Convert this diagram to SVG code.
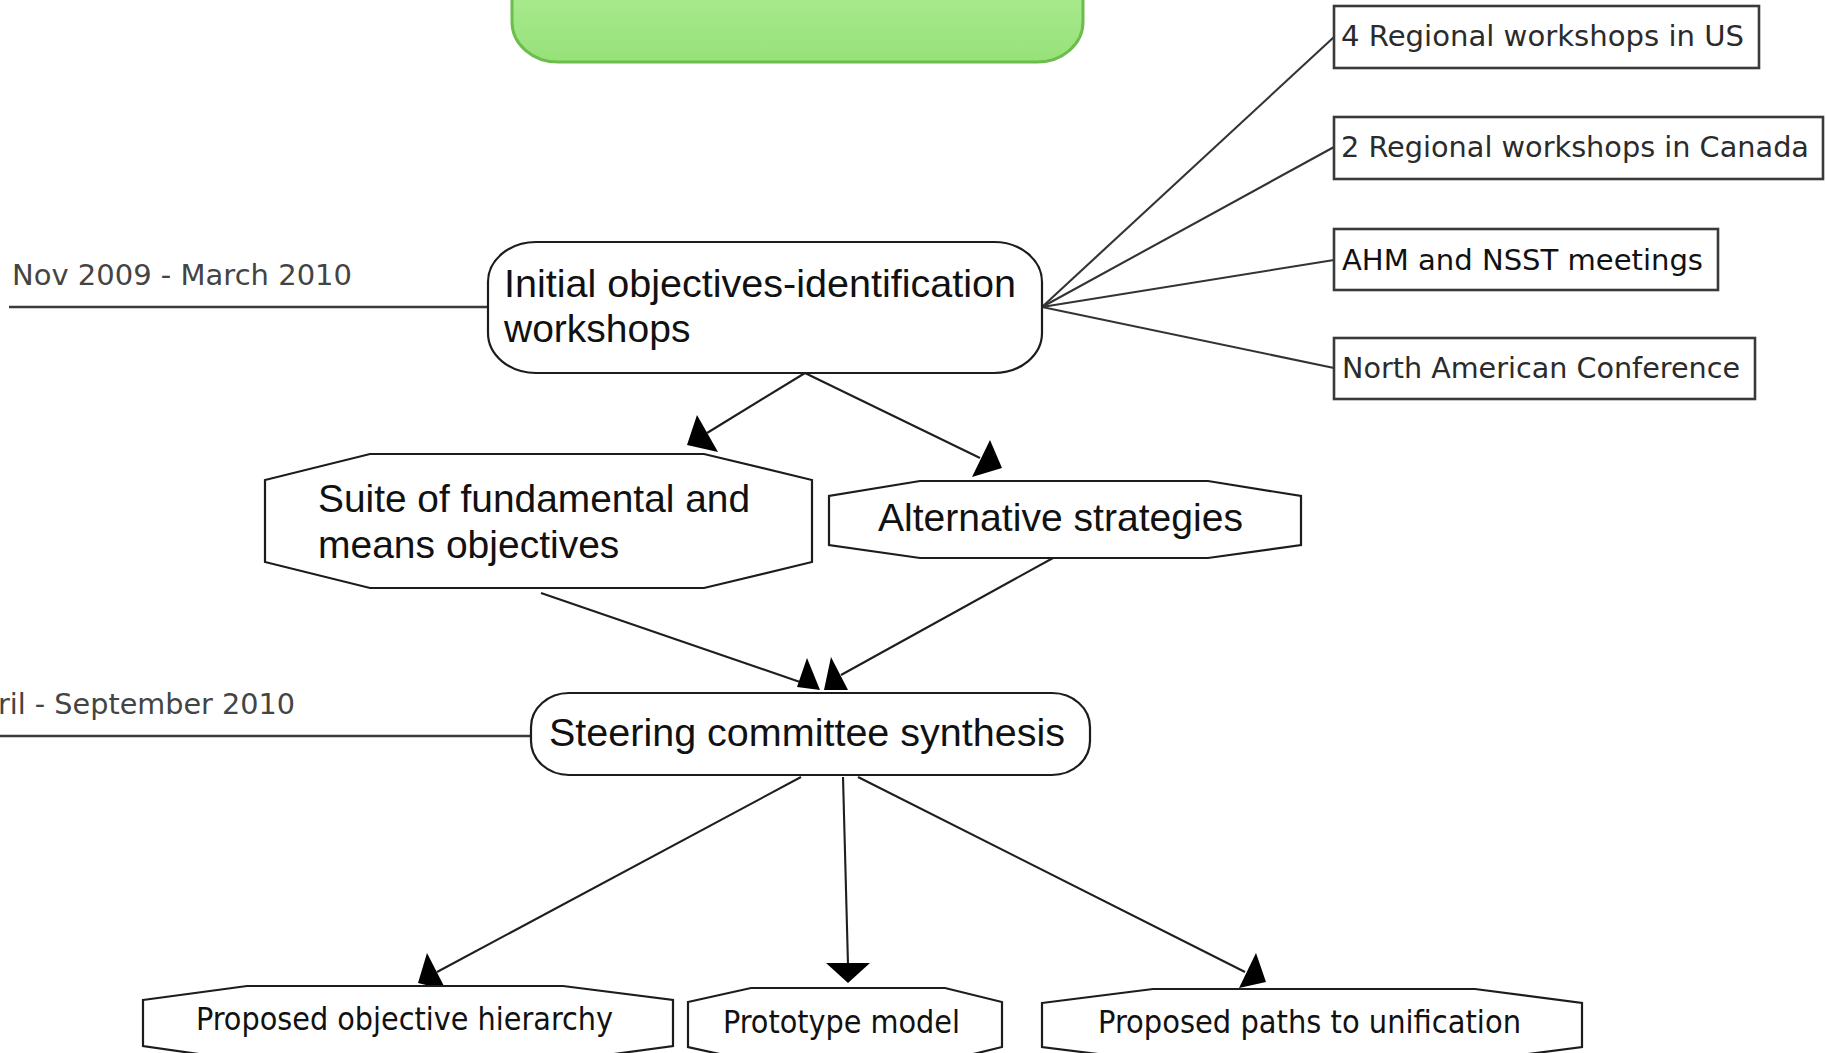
<svg xmlns="http://www.w3.org/2000/svg" width="1826" height="1053" viewBox="0 0 1826 1053">
  <defs>
    <linearGradient id="greenFill" x1="0" y1="0" x2="0" y2="1">
      <stop offset="0" stop-color="#b6f29e"/>
      <stop offset="1" stop-color="#96e179"/>
    </linearGradient>
    <style>
      .node { fill: #fff; stroke: #1c1c1c; stroke-width: 2.2; }
      .box { fill: #fff; stroke: #3a3a3a; stroke-width: 2.6; }
      .edge { fill: none; stroke: #1e1e1e; stroke-width: 2.1; }
      .link { fill: none; stroke: #333; stroke-width: 2.1; }
      .time { fill: none; stroke: #3a3a3a; stroke-width: 2.6; }
      .head { fill: #000; stroke: none; }
      .big { font-family: 'Liberation Sans', Arial, sans-serif; font-size: 39px; fill: #111; }
      .small { font-family: 'DejaVu Sans', Verdana, sans-serif; font-size: 29px; fill: #2b2b2b; }
      .date { font-family: 'DejaVu Sans', Verdana, sans-serif; font-size: 29px; fill: #444; }
      .cond { font-family: 'DejaVu Sans Condensed', 'DejaVu Sans', sans-serif; font-stretch: condensed; font-size: 32px; fill: #111; }
    </style>
  </defs>

  <rect width="1826" height="1053" fill="#fff"/>

  <!-- title panel, cut by the top edge -->
  <g id="header">
    <rect x="512" y="-60" width="571" height="122" rx="46" ry="40" fill="url(#greenFill)" stroke="#6cbd4c" stroke-width="3"/>
  </g>

  <!-- connectors -->
  <g id="connectors">
    <line class="time" x1="9" y1="307" x2="488" y2="307"/>
    <line class="time" x1="0" y1="736" x2="531" y2="736"/>

    <line class="link" x1="1042" y1="307" x2="1334" y2="37"/>
    <line class="link" x1="1042" y1="307" x2="1334" y2="147"/>
    <line class="link" x1="1042" y1="307" x2="1334" y2="260"/>
    <line class="link" x1="1042" y1="307" x2="1334" y2="368"/>

    <line class="edge" x1="805" y1="373" x2="707" y2="433"/>
    <polygon class="head" points="697,415 687,445 718,452"/>
    <line class="edge" x1="805" y1="373" x2="980" y2="458"/>
    <polygon class="head" points="990,440 972,477 1002,468"/>

    <line class="edge" x1="541" y1="593" x2="800" y2="682"/>
    <polygon class="head" points="807,658 797,687 820,690"/>
    <line class="edge" x1="1053" y1="558" x2="841" y2="675"/>
    <polygon class="head" points="831,657 824,690 848,690"/>

    <line class="edge" x1="801" y1="777" x2="437" y2="972"/>
    <polygon class="head" points="427,953 418,983 446,990"/>
    <line class="edge" x1="843" y1="777" x2="848" y2="965"/>
    <polygon class="head" points="826,963 870,963 848,983"/>
    <line class="edge" x1="858" y1="777" x2="1245" y2="972"/>
    <polygon class="head" points="1256,953 1239,988 1266,982"/>
  </g>

  <!-- period labels -->
  <g id="period-1">
    <text class="date" x="12" y="285" textLength="340" lengthAdjust="spacingAndGlyphs">Nov 2009 - March 2010</text>
  </g>
  <g id="period-2">
    <text class="date" x="-2" y="714" textLength="297" lengthAdjust="spacingAndGlyphs">ril - September 2010</text>
  </g>

  <!-- workshop venues -->
  <g id="venue-us">
    <rect class="box" x="1334" y="6" width="425" height="62"/>
    <text class="small" x="1341" y="46" textLength="403" lengthAdjust="spacingAndGlyphs">4 Regional workshops in US</text>
  </g>
  <g id="venue-canada">
    <rect class="box" x="1334" y="117" width="489" height="62"/>
    <text class="small" x="1341" y="157" textLength="468" lengthAdjust="spacingAndGlyphs">2 Regional workshops in Canada</text>
  </g>
  <g id="venue-ahm">
    <rect class="box" x="1334" y="229" width="384" height="61"/>
    <text class="small" x="1342" y="270" textLength="361" lengthAdjust="spacingAndGlyphs" style="fill:#111">AHM and NSST meetings</text>
  </g>
  <g id="venue-conference">
    <rect class="box" x="1334" y="338" width="421" height="61"/>
    <text class="small" x="1342" y="378" textLength="398" lengthAdjust="spacingAndGlyphs">North American Conference</text>
  </g>

  <!-- main flow -->
  <g id="initial-workshops">
    <rect class="node" x="488" y="242" width="554" height="131" rx="48" ry="40"/>
    <text class="big" x="504" y="297" textLength="512" lengthAdjust="spacingAndGlyphs">Initial objectives-identification</text>
    <text class="big" x="504" y="342">workshops</text>
  </g>

  <g id="objectives-suite">
    <polygon class="node" points="370,454 704,454 812,480 812,562 704,588 370,588 265,562 265,480"/>
    <text class="big" x="318" y="512" textLength="432" lengthAdjust="spacingAndGlyphs">Suite of fundamental and</text>
    <text class="big" x="318" y="558">means objectives</text>
  </g>

  <g id="alternative-strategies">
    <polygon class="node" points="920,481 1208,481 1301,496 1301,545 1208,558 920,558 829,545 829,496"/>
    <text class="big" x="878" y="531" textLength="365" lengthAdjust="spacingAndGlyphs">Alternative strategies</text>
  </g>

  <g id="steering-synthesis">
    <rect class="node" x="531" y="693" width="559" height="82" rx="38" ry="34"/>
    <text class="big" x="549" y="746" textLength="516" lengthAdjust="spacingAndGlyphs">Steering committee synthesis</text>
  </g>

  <g id="objective-hierarchy">
    <polygon class="node" points="143,1000 247,986 563,986 673,1000 673,1046 563,1061 247,1061 143,1046"/>
    <text class="cond" x="196" y="1030" textLength="417" lengthAdjust="spacingAndGlyphs">Proposed objective hierarchy</text>
  </g>

  <g id="prototype-model">
    <polygon class="node" points="688,1002 751,988 945,988 1002,1002 1002,1047 945,1061 751,1061 688,1047"/>
    <text class="cond" x="723" y="1033" textLength="237" lengthAdjust="spacingAndGlyphs">Prototype model</text>
  </g>

  <g id="unification-paths">
    <polygon class="node" points="1042,1003 1153,989 1475,989 1582,1003 1582,1047 1475,1061 1153,1061 1042,1047"/>
    <text class="cond" x="1098" y="1033" textLength="423" lengthAdjust="spacingAndGlyphs">Proposed paths to unification</text>
  </g>
</svg>
